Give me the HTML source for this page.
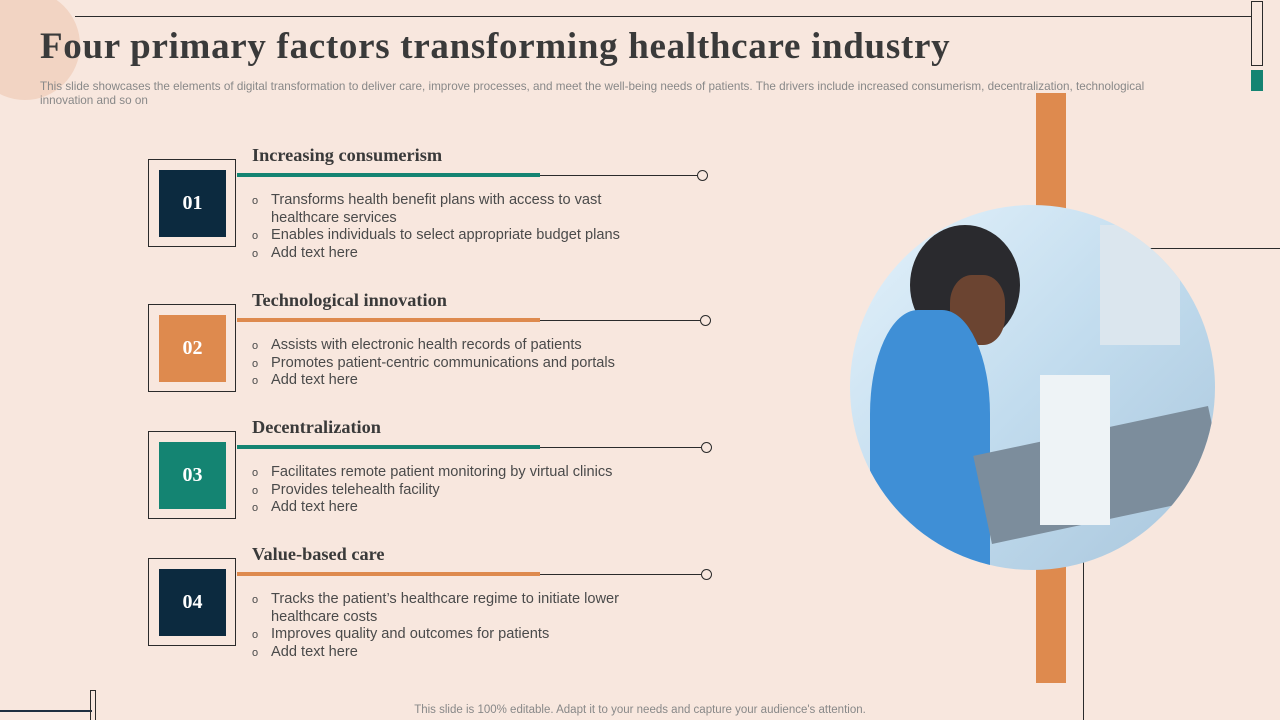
<!DOCTYPE html>
<html><head><meta charset="utf-8"><style>
html,body{margin:0;width:1280px;height:720px;overflow:hidden}
body{background:#f8e7de;font-family:"Liberation Sans",sans-serif;position:relative}
.a{position:absolute}
.t{font-family:"Liberation Serif",serif;font-weight:bold;color:#3a3a3a}
.box{position:absolute;left:148px;width:88px;height:88px;border:1px solid #2b2b2b;box-sizing:border-box}
.sq{position:absolute;left:10px;top:10px;width:67px;height:67px;color:#fff;font-family:"Liberation Serif",serif;font-weight:bold;font-size:20px;display:flex;align-items:center;justify-content:center}
ul{position:absolute;left:252px;margin:0;padding:0;list-style:none;font-size:14.6px;color:#4a4a4a;line-height:17.5px;width:385px}
li{padding-left:19px;position:relative}
li:before{content:"o";position:absolute;left:0;font-size:11px;top:1px}
.h{font-size:18.3px}
</style></head><body>
<div class="a" style="left:-30px;top:-10px;width:110px;height:110px;border-radius:50%;background:#f2d4c3"></div>
<div class="a" style="left:75px;top:16px;width:1177px;height:1px;background:#2b2b2b"></div>
<div class="a" style="left:1251px;top:1px;width:12px;height:65px;border:1px solid #2b2b2b;box-sizing:border-box"></div>
<div class="a" style="left:1251px;top:70px;width:12px;height:21px;background:#148472"></div>
<div class="a t" style="left:40px;top:25px;font-size:37px;letter-spacing:0.7px">Four primary factors transforming healthcare industry</div>
<div class="a" style="left:40px;top:80px;width:1150px;font-size:11.7px;line-height:14px;color:#888">This slide showcases the elements of digital transformation to deliver care, improve processes, and meet the well-being needs of patients. The drivers include increased consumerism, decentralization, technological innovation and so on</div>
<div class="a" style="left:1036px;top:93px;width:30px;height:590px;background:#de8a4e"></div>
<div class="a" style="left:1150px;top:248px;width:130px;height:1px;background:#2b2b2b"></div>
<div class="a" style="left:1083px;top:560px;width:1px;height:160px;background:#2b2b2b"></div>
<div class="a" style="left:850px;top:205px;width:365px;height:365px;border-radius:50%;overflow:hidden;background:linear-gradient(135deg,#e4f2fb,#c2dcee 50%,#a9c6dc)">
 <div class="a" style="left:60px;top:20px;width:110px;height:120px;border-radius:50%;background:#2a2a2e"></div>
 <div class="a" style="left:100px;top:70px;width:55px;height:70px;border-radius:40%;background:#6b4431"></div>
 <div class="a" style="left:20px;top:105px;width:120px;height:260px;border-radius:40% 40% 0 0;background:#3f8fd6"></div>
 <div class="a" style="left:130px;top:225px;width:240px;height:90px;background:#7c8d9c;transform:rotate(-12deg)"></div>
 <div class="a" style="left:190px;top:170px;width:70px;height:150px;background:#eef3f6"></div>
 <div class="a" style="left:250px;top:20px;width:80px;height:120px;background:#dbe6ee"></div>
</div>
<div class="a" style="left:0;top:710px;width:92px;height:2px;background:#1d2e3f"></div>
<div class="a" style="left:90px;top:690px;width:6px;height:30px;border:1px solid #2b2b2b;border-bottom:none;box-sizing:border-box"></div>
<div class="a" style="left:0;width:1280px;top:704px;text-align:center;font-size:11.5px;color:#888">This slide is 100% editable. Adapt it to your needs and capture your audience's attention.</div>

<div class="box" style="top:159px"><div class="sq" style="background:#0c2a3f">01</div></div>
<div class="a t h" style="left:252px;top:145px">Increasing consumerism</div>
<div class="a" style="left:237px;top:173px;width:303px;height:4px;background:#148472"></div>
<div class="a" style="left:540px;top:175px;width:158px;height:1px;background:#2b2b2b"></div>
<div class="a" style="left:697px;top:170px;width:9px;height:9px;border:1px solid #2b2b2b;border-radius:50%"></div>
<ul style="top:192px"><li>Transforms health benefit plans with access to vast healthcare services</li><li>Enables individuals to select appropriate budget plans</li><li>Add text here</li></ul>

<div class="box" style="top:304px"><div class="sq" style="background:#de8a4e">02</div></div>
<div class="a t h" style="left:252px;top:290px">Technological innovation</div>
<div class="a" style="left:237px;top:318px;width:303px;height:4px;background:#de8a4e"></div>
<div class="a" style="left:540px;top:320px;width:160px;height:1px;background:#2b2b2b"></div>
<div class="a" style="left:700px;top:315px;width:9px;height:9px;border:1px solid #2b2b2b;border-radius:50%"></div>
<ul style="top:337px"><li>Assists with electronic health records of patients</li><li>Promotes patient-centric communications and portals</li><li>Add text here</li></ul>

<div class="box" style="top:431px"><div class="sq" style="background:#148472">03</div></div>
<div class="a t h" style="left:252px;top:417px">Decentralization</div>
<div class="a" style="left:237px;top:445px;width:303px;height:4px;background:#148472"></div>
<div class="a" style="left:540px;top:447px;width:161px;height:1px;background:#2b2b2b"></div>
<div class="a" style="left:701px;top:442px;width:9px;height:9px;border:1px solid #2b2b2b;border-radius:50%"></div>
<ul style="top:464px"><li>Facilitates remote patient monitoring by virtual clinics</li><li>Provides telehealth facility</li><li>Add text here</li></ul>

<div class="box" style="top:558px"><div class="sq" style="background:#0c2a3f">04</div></div>
<div class="a t h" style="left:252px;top:544px">Value-based care</div>
<div class="a" style="left:237px;top:572px;width:303px;height:4px;background:#de8a4e"></div>
<div class="a" style="left:540px;top:574px;width:161px;height:1px;background:#2b2b2b"></div>
<div class="a" style="left:701px;top:569px;width:9px;height:9px;border:1px solid #2b2b2b;border-radius:50%"></div>
<ul style="top:591px"><li>Tracks the patient’s healthcare regime to initiate lower healthcare costs</li><li>Improves quality and outcomes for patients</li><li>Add text here</li></ul>
</body></html>
